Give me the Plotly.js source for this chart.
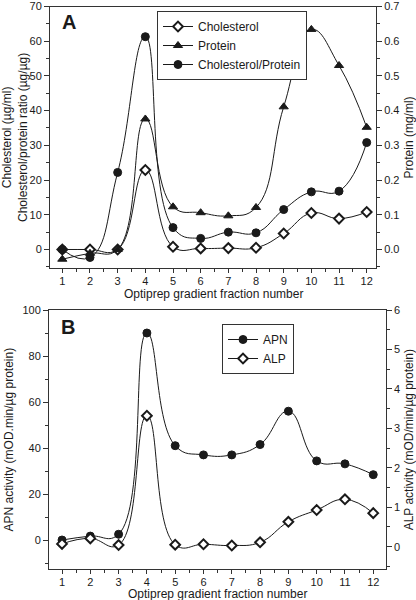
<!DOCTYPE html>
<html>
<head>
<meta charset="utf-8">
<script src="https://cdn.plot.ly/plotly-3.0.1.min.js"></script>
<style>html,body{margin:0;padding:0;background:#fff;}#chart{width:416px;height:600px;}</style>
</head>
<body>
<div id="chart"></div>
<script>
const fractions = [1, 2, 3, 4, 5, 6, 7, 8, 9, 10, 11, 12];
const cholesterol = [0, 0, 0, 22.9, 0.8, 0.3, 0.4, 0.5, 4.6, 10.5, 8.9, 10.8];
const protein = [-0.028, -0.011, 0.0, 0.376, 0.123, 0.106, 0.097, 0.121, 0.411, 0.634, 0.53, 0.352];
const cholProtRatio = [0, -2.3, 22.2, 61.3, 6.3, 3.2, 5.0, 4.8, 11.5, 16.6, 16.8, 30.8];
const apn = [0, 1.7, 2.5, 90, 41, 37, 37, 41.5, 56, 34.4, 33.1, 28.4];
const alp = [0.07, 0.21, 0.04, 3.32, 0.05, 0.06, 0.03, 0.11, 0.63, 0.93, 1.2, 0.85];
const xTickLabels = fractions.map(String);
const xTitle = 'Optiprep gradient fraction number';

const FONT = 'Liberation Sans, Arial, sans-serif';
const INK = '#1a1a1a';
const AX = '#333';
const lineStyle = {color: INK, width: 1, shape: 'spline', smoothing: 1.3};

function mk(symbol, filled) {
  return {symbol: symbol, size: symbol === 'diamond' ? 7.5 : 8,
          color: filled ? INK : '#fff', line: {color: INK, width: filled ? 1 : 2}};
}

const traces = [
  {x: fractions, y: cholesterol, name: 'Cholesterol', mode: 'lines+markers', line: lineStyle,
   marker: mk('diamond', false), xaxis: 'x', yaxis: 'y', legend: 'legend'},
  {x: fractions, y: protein, name: 'Protein', mode: 'lines+markers', line: lineStyle,
   marker: mk('triangle-up', true), xaxis: 'x', yaxis: 'y2', legend: 'legend'},
  {x: fractions, y: cholProtRatio, name: 'Cholesterol/Protein', mode: 'lines+markers', line: lineStyle,
   marker: mk('circle', true), xaxis: 'x', yaxis: 'y', legend: 'legend'},
  {x: fractions, y: apn, name: 'APN', mode: 'lines+markers', line: lineStyle,
   marker: mk('circle', true), xaxis: 'x2', yaxis: 'y3', legend: 'legend2'},
  {x: fractions, y: alp, name: 'ALP', mode: 'lines+markers', line: lineStyle,
   marker: mk('diamond', false), xaxis: 'x2', yaxis: 'y4', legend: 'legend2'}
];

function axisBase(extra) {
  return Object.assign({
    showgrid: false, zeroline: false, showline: true, linecolor: AX, linewidth: 1,
    ticks: 'outside', ticklen: 5, tickwidth: 1, tickcolor: AX,
    tickfont: {family: FONT, size: 11, color: INK},
    fixedrange: true, automargin: false
  }, extra);
}

const titleFont = {family: FONT, size: 12, color: INK};
const xTitleFont = {family: FONT, size: 12, color: INK};
const xMinor = {ticks: 'outside', ticklen: 2.5, dtick: 0.5, tick0: 0.5, tickcolor: AX};

const layout = {
  width: 416, height: 600,
  margin: {l: 0, r: 0, t: 0, b: 0},
  paper_bgcolor: '#fff', plot_bgcolor: '#fff',
  font: {family: FONT, color: INK},
  showlegend: true,
  xaxis: axisBase({domain: [50/416, 376/416], anchor: 'y', range: [0.555, 12.336],
    tickmode: 'array', tickvals: fractions, ticktext: xTickLabels, mirror: true,
    ticklen: 4, ticklabelstandoff: -2, minor: xMinor}),
  yaxis: axisBase({domain: [1 - 268.3/600, 1 - 6.5/600], anchor: 'x', range: [-5.42, 70],
    tick0: 0, dtick: 10,
    minor: {ticks: 'outside', ticklen: 3, dtick: 5, tickcolor: AX},
    title: {text: 'Cholesterol (µg/ml)<br>Cholesterol/protein ratio (µg/µg)', font: titleFont, standoff: 4}}),
  yaxis2: axisBase({overlaying: 'y', side: 'right', anchor: 'x', range: [-0.0542, 0.7],
    tick0: 0, dtick: 0.1, tickformat: '.1f',
    minor: {ticks: 'outside', ticklen: 3, dtick: 0.05, tickcolor: AX},
    title: {text: 'Protein (mg/ml)', font: titleFont, standoff: 6}}),
  xaxis2: axisBase({domain: [49/416, 385.7/416], anchor: 'y3', range: [0.54, 12.44],
    tickmode: 'array', tickvals: fractions, ticktext: xTickLabels, mirror: true,
    ticklen: 4, ticklabelstandoff: -2, minor: xMinor}),
  yaxis3: axisBase({domain: [1 - 569.3/600, 1 - 310/600], anchor: 'x2', range: [-12.74, 100],
    tick0: 0, dtick: 20,
    minor: {ticks: 'outside', ticklen: 3, dtick: 10, tickcolor: AX},
    title: {text: 'APN activity (mOD.min/µg protein)', font: titleFont, standoff: 6}}),
  yaxis4: axisBase({overlaying: 'y3', side: 'right', anchor: 'x2', range: [-0.574, 6.0],
    tick0: 0, dtick: 1,
    minor: {ticks: 'outside', ticklen: 3, dtick: 0.5, tickcolor: AX},
    title: {text: 'ALP activity (mOD/min/µg protein)', font: titleFont, standoff: 8}}),
  legend: {x: 157/416, y: 1 - 11/600, xanchor: 'left', yanchor: 'top',
    bgcolor: '#fff', bordercolor: AX, borderwidth: 1,
    font: {family: FONT, size: 12, color: INK}, tracegroupgap: 0, itemwidth: 30,
    traceorder: 'normal'},
  legend2: {x: 222/416, y: 1 - 324/600, xanchor: 'left', yanchor: 'top',
    bgcolor: '#fff', bordercolor: AX, borderwidth: 1,
    font: {family: FONT, size: 12, color: INK}, tracegroupgap: 0, itemwidth: 30,
    traceorder: 'normal'},
  annotations: [
    {text: '<b>A</b>', xref: 'paper', yref: 'paper', x: 60/416, y: 1 - 22/600,
     xanchor: 'left', yanchor: 'middle', showarrow: false,
     font: {family: FONT, size: 20, color: INK}},
    {text: '<b>B</b>', xref: 'paper', yref: 'paper', x: 59/416, y: 1 - 327/600,
     xanchor: 'left', yanchor: 'middle', showarrow: false,
     font: {family: FONT, size: 20, color: INK}},
    {text: xTitle, xref: 'x domain', yref: 'paper', x: 0.5, y: 1 - 294/600,
     xanchor: 'center', yanchor: 'middle', showarrow: false, font: xTitleFont},
    {text: xTitle, xref: 'x2 domain', yref: 'paper', x: 0.5, y: 1 - 594/600,
     xanchor: 'center', yanchor: 'middle', showarrow: false, font: xTitleFont}
  ]
};

Plotly.newPlot('chart', traces, layout, {displayModeBar: false, staticPlot: true});
</script>
</body>
</html>
